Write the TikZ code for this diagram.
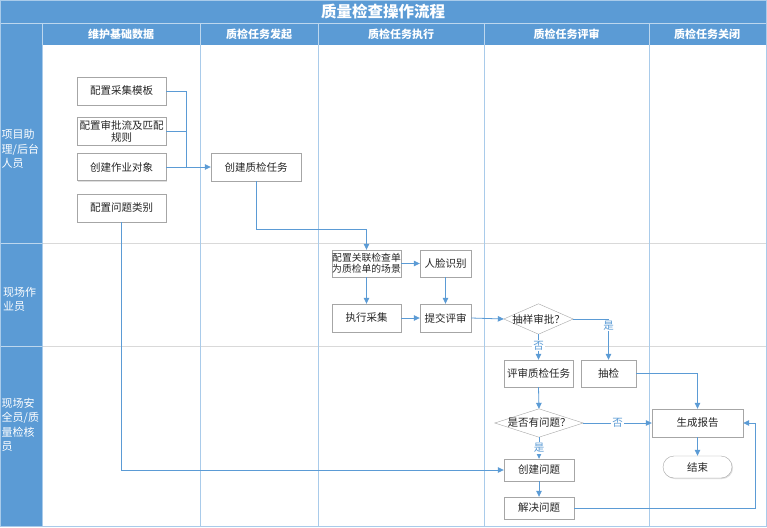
\documentclass[tikz,border=0pt]{standalone}
\usepackage{fontspec}
\setmainfont{Noto Sans CJK SC}
\usetikzlibrary{arrows.meta,shadows}
\definecolor{hdr}{HTML}{5B9BD5}
\definecolor{lanecol}{HTML}{A9CBEA}
\definecolor{rowline}{HTML}{D9D9D9}
\definecolor{conn}{HTML}{5B9BD5}
\definecolor{bord}{HTML}{A6A6A6}
\definecolor{txt}{HTML}{262626}
\begin{document}
\begin{tikzpicture}[x=1pt,y=-1pt,
  box/.style={draw=bord,fill=white,inner sep=0pt,align=center,text=txt,
    font=\fontsize{10.5}{12}\selectfont,minimum height=28pt,
    drop shadow={shadow xshift=1pt,shadow yshift=-1pt,fill=black!25,opacity=0.5}},
  dia/.style={inner sep=0pt,align=center,text=txt,font=\fontsize{10.5}{12}\selectfont},
  conline/.style={draw=conn,line width=0.8pt},
  arr/.style={conline,-{Triangle[length=6pt,width=5.5pt]}},
  hdrtext/.style={text=white,font=\fontsize{11}{12}\bfseries\selectfont},
  lanetext/.style={text=white,anchor=west,align=left,inner sep=0pt,font=\fontsize{11}{14.5}\selectfont},
  yn/.style={text=conn,fill=white,inner sep=1pt,font=\fontsize{10.5}{12}\selectfont}
]
\useasboundingbox (0,0) rectangle (767,527);
\fill[white] (0,0) rectangle (767,527);
% title and header
\fill[hdr] (0,0) rectangle (766,45);
\fill[hdr] (0,45) rectangle (42,526);
\draw[white!60!hdr,line width=0.8pt] (0,23) -- (766,23);
\foreach \x in {42,200,318,484,649} \draw[white!60!hdr,line width=0.8pt] (\x,23) -- (\x,45);
\draw[white!60!hdr,line width=0.8pt] (0,243) -- (42,243) (0,346) -- (42,346);
% grid
\draw[rowline,line width=0.8pt] (42,243) -- (766,243) (42,346) -- (766,346);
\foreach \x in {42,200,318,484,649} \draw[lanecol,line width=0.9pt] (\x,45) -- (\x,526);
\draw[lanecol,line width=1pt] (0.5,0.5) rectangle (766,526);
% titles
\node[text=white,font=\fontsize{15.5}{17}\bfseries\selectfont] (title) at (383,12) {质量检查操作流程};
\node[hdrtext] (h1) at (121,34) {维护基础数据};
\node[hdrtext] (h2) at (259,34) {质检任务发起};
\node[hdrtext] (h3) at (401,34) {质检任务执行};
\node[hdrtext] (h4) at (566.5,34) {质检任务评审};
\node[hdrtext] (h5) at (707,34) {质检任务关闭};
\node[lanetext] (l1) at (1.5,149) {项目助\\理/后台\\人员};
\node[lanetext] (l2) at (3,299.5) {现场作\\业员};
\node[lanetext] (l3) at (1.5,425) {现场安\\全员/质\\量检核\\员};
% nodes
\node[box,minimum width=89pt] (t1) at (121.5,91) {配置采集模板};
\node[box,minimum width=89pt] (t2) at (121.5,131) {配置审批流及匹配\\规则};
\node[box,minimum width=89pt,minimum height=27pt] (t3) at (121.5,167) {创建作业对象};
\node[box,minimum width=89pt] (cat) at (121.5,208) {配置问题类别};
\node[box,minimum width=90pt] (task) at (256,167) {创建质检任务};
\node[box,minimum width=69pt,minimum height=27pt,font=\fontsize{9.8}{11}\selectfont] (scene) at (366.5,263.5) {配置关联检查单\\为质检单的场景};
\node[box,minimum width=51pt,minimum height=27pt] (face) at (445.5,263.5) {人脸识别};
\node[box,minimum width=69pt] (exec) at (366.5,318) {执行采集};
\node[box,minimum width=51pt] (submit) at (445.5,318) {提交评审};
\node[dia,minimum width=69pt,minimum height=30pt] (d1) at (538.5,319) {抽样审批？};
\draw[bord,fill=white] (d1.west) -- (d1.north) -- (d1.east) -- (d1.south) -- cycle;
\node[dia] at (d1.center) {抽样审批？};
\node[box,minimum width=69pt,minimum height=27pt] (review) at (538.5,373.5) {评审质检任务};
\node[box,minimum width=55pt,minimum height=27pt] (sample) at (608.5,373.5) {抽检};
\node[dia,minimum width=88pt,minimum height=28pt] (d2) at (539,423) {是否有问题？};
\draw[bord,fill=white] (d2.west) -- (d2.north) -- (d2.east) -- (d2.south) -- cycle;
\node[dia] at (d2.center) {是否有问题？};
\node[box,minimum width=91pt] (report) at (697.5,423) {生成报告};
\node[box,minimum width=69pt,minimum height=22pt,rounded corners=11pt] (end) at (697.5,467) {结束};
\node[box,minimum width=70pt,minimum height=22pt] (create) at (539,470) {创建问题};
\node[box,minimum width=70pt,minimum height=22pt] (solve) at (539,508) {解决问题};
% junctions
\coordinate (j1) at (186,167);
\coordinate (j2) at (366.5,229);
\coordinate (j3) at (755,423);
% connectors
\draw[conline] (t1.east) -| (j1);
\draw[conline] (t2.east) -| (j1);
\draw[arr] (t3.east) -- (task.west);
\draw[arr] (task.south) |- (j2) -- (scene.north);
\draw[arr] (scene.east) -- (face.west);
\draw[arr] (scene.south) -- (exec.north);
\draw[arr] (exec.east) -- (submit.west);
\draw[arr] (face.south) -- (submit.north);
\draw[arr] (submit.east) -- (d1.west);
\draw[arr] (d1.east) -| (sample.north) node[yn,pos=0.58] {是};
\draw[arr] (d1.south) -- (review.north) node[yn,pos=0.45] {否};
\draw[arr] (sample.east) -| (report.north);
\draw[arr] (review.south) -- (d2.north);
\draw[arr] (d2.east) -- (report.west) node[yn,pos=0.5] {否};
\draw[arr] (d2.south) -- (create.north) node[yn,pos=0.5] {是};
\draw[arr] (create.south) -- (solve.north);
\draw[arr] (solve.east) -| (j3) -- (report.east);
\draw[arr] (cat.south) |- (create.west);
\draw[arr] (report.south) -- (end.north);
\end{tikzpicture}
\end{document}
